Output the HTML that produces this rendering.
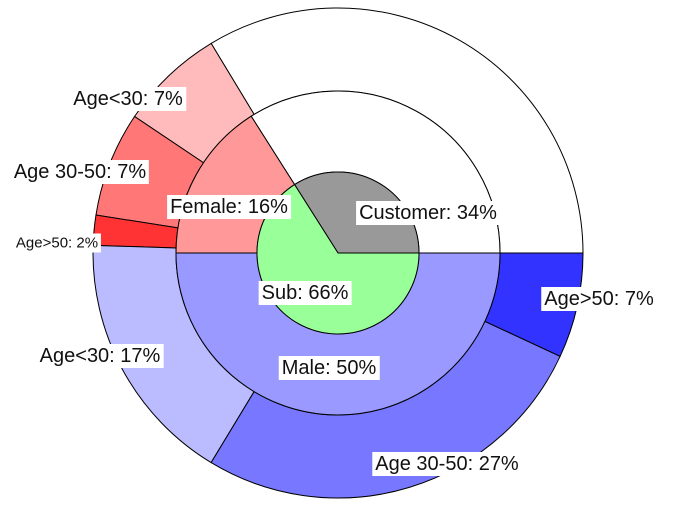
<!DOCTYPE html>
<html><head><meta charset="utf-8"><style>
body{margin:0;background:#fff;width:676px;height:507px;overflow:hidden;position:relative;font-family:"Liberation Sans",sans-serif}
.lbl{position:absolute;background:#fff;color:#111;font-size:20px;line-height:24px;padding:0 3px;white-space:nowrap;transform:translate(-50%,-50%)}
</style></head><body>
<svg id="chart" width="676" height="507" style="position:absolute;left:0;top:0"></svg>
<script>
const innerLabels=["Customer","Sub"];
const innerValues=[34,66];
const innerColors=["#999999","#99ff99"];
const midLabels=["Customer","Female","Male"];
const midValues=[34,16,50];
const midColors=["#ffffff","#ff9999","#9999ff"];
const outerLabels=["Customer","Age<30","Age 30-50","Age>50","Age<30","Age 30-50","Age>50"];
const outerValues=[34,7,7,2,17,27,7];
const outerColors=["#ffffff","#ffbbbb","#ff7777","#ff3333","#bbbbff","#7777ff","#3333ff"];
const cx=338,cy=253;
const svg=document.getElementById('chart');
const NS="http://www.w3.org/2000/svg";
function ang(p){return p/100*2*Math.PI;}
function pt(r,a){return [cx+r*Math.cos(a),cy-r*Math.sin(a)];}
function ring(vals,cols,names,r0,r1,prefix){
  let acc=0;const tot=vals.reduce((a,b)=>a+b,0);
  vals.forEach((v,i)=>{
    const a0=ang(acc/tot*100),a1=ang((acc+v)/tot*100);acc+=v;
    const large=(a1-a0)>Math.PI?1:0;
    const p0=pt(r1,a0),p1=pt(r1,a1);
    let d;
    if(r0>0){const q1=pt(r0,a1),q0=pt(r0,a0);
      d=`M${p0} A${r1},${r1} 0 ${large} 0 ${p1} L${q1} A${r0},${r0} 0 ${large} 1 ${q0} Z`;}
    else d=`M${cx},${cy} L${p0} A${r1},${r1} 0 ${large} 0 ${p1} Z`;
    const el=document.createElementNS(NS,'path');
    el.setAttribute('d',d);el.setAttribute('fill',cols[i]);
    el.setAttribute('stroke','#000');el.setAttribute('stroke-width','1');
    
    
    svg.appendChild(el);
  });
}
ring(outerValues,outerColors,outerLabels,162,245,'outer-wedge');
ring(midValues,midColors,midLabels,81,162,'middle-wedge');
ring(innerValues,innerColors,innerLabels,0,81,'inner-wedge');
</script>
<div class="lbl" style="left:128px;top:99px">Age&lt;30: 7%</div>
<div class="lbl" style="left:80px;top:172px">Age 30-50: 7%</div>
<div class="lbl" style="left:229px;top:207px">Female: 16%</div>
<div class="lbl" style="left:428px;top:213px">Customer: 34%</div>
<div class="lbl" style="left:57px;top:243px;font-size:15px;line-height:19px">Age&gt;50: 2%</div>
<div class="lbl" style="left:305px;top:293px">Sub: 66%</div>
<div class="lbl" style="left:599px;top:299px">Age&gt;50: 7%</div>
<div class="lbl" style="left:100px;top:356px">Age&lt;30: 17%</div>
<div class="lbl" style="left:329px;top:368px">Male: 50%</div>
<div class="lbl" style="left:447px;top:464px">Age 30-50: 27%</div>
</body></html>
